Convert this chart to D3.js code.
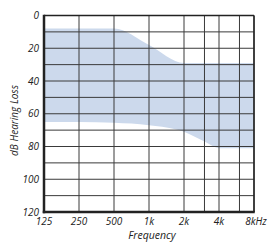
<!DOCTYPE html>
<html>
<head>
<meta charset="utf-8">
<script src="https://cdn.jsdelivr.net/npm/d3@7"></script>
<style>
  body { margin: 0; background: #fff; }
  text { font-family: "Open Sans", sans-serif; font-style: italic; fill: #222; }
</style>
</head>
<body>
<div id="chart"></div>
<script>
// band of typical hearing loss
const freqs = [125, 250, 500, 1000, 2000, 3000, 4000, 6000, 8000];
const upperDb = [8, 8, 8, 18, 29, 29, 29, 29, 29];
const lowerDb = [65, 65, 65.5, 67, 71, 77, 81, 81, 81];
const gridFreqs = [125, 250, 500, 1000, 2000, 3000, 4000, 6000, 8000];
const xTicks = [125, 250, 500, 1000, 2000, 4000, 8000];
const xLabels = ["125", "250", "500", "1k", "2k", "4k", "8kHz"];
const gridDb = d3.range(0, 121, 10);
const yTicks = d3.range(0, 121, 20);

const W = 270, H = 248;
const margin = {top: 15.5, right: 16, bottom: 36, left: 44};

const x = d3.scaleLog().base(2).domain([125, 8000]).range([margin.left, W - margin.right]);
const y = d3.scaleLinear().domain([0, 120]).range([margin.top, H - margin.bottom]);

const svg = d3.select("#chart").append("svg")
  .attr("width", W).attr("height", H);

// band
const band = freqs.map((f, i) => ({f: f, lo: lowerDb[i], hi: upperDb[i]}));
svg.append("path")
  .datum(band)
  .attr("fill", "#ccd9ec")
  .attr("d", d3.area()
    .x(d => x(d.f))
    .y0(d => y(d.lo))
    .y1(d => y(d.hi))
    .curve(d3.curveMonotoneX));

// grid
svg.append("g").selectAll("line")
  .data(gridDb)
  .join("line")
  .attr("x1", x(125)).attr("x2", x(8000))
  .attr("y1", d => y(d)).attr("y2", d => y(d))
  .attr("stroke", "#3a3a3a").attr("stroke-width", 1);

svg.append("g").selectAll("line")
  .data(gridFreqs)
  .join("line")
  .attr("x1", d => x(d)).attr("x2", d => x(d))
  .attr("y1", y(0)).attr("y2", y(120))
  .attr("stroke", "#3a3a3a").attr("stroke-width", 1);

// frame
svg.append("line").attr("x1", x(125)).attr("x2", x(8000))
  .attr("y1", y(0)).attr("y2", y(0)).attr("stroke", "#222").attr("stroke-width", 1.5);
svg.append("line").attr("x1", x(8000)).attr("x2", x(8000))
  .attr("y1", y(0)).attr("y2", y(120)).attr("stroke", "#222").attr("stroke-width", 1.5);
svg.append("line").attr("x1", x(125)).attr("x2", x(125))
  .attr("y1", y(0) - 0.75).attr("y2", y(120) + 1.25).attr("stroke", "#222").attr("stroke-width", 2.5);
svg.append("line").attr("x1", x(125) - 1.25).attr("x2", x(8000) + 0.75)
  .attr("y1", y(120)).attr("y2", y(120)).attr("stroke", "#222").attr("stroke-width", 2.5);

// tick labels
svg.append("g").selectAll("text")
  .data(yTicks)
  .join("text")
  .attr("x", 39)
  .attr("y", d => y(d))
  .attr("dy", "0.35em")
  .attr("text-anchor", "end")
  .attr("font-size", 10)
  .text(d => d);

svg.append("g").selectAll("text")
  .data(xTicks)
  .join("text")
  .attr("x", (d, i) => x(d) + (i === xTicks.length - 1 ? 2 : 0))
  .attr("y", 224.5)
  .attr("text-anchor", "middle")
  .attr("font-size", 10)
  .text((d, i) => xLabels[i]);

// axis titles
svg.append("text")
  .attr("x", (x(125) + x(8000)) / 2 + 3)
  .attr("y", 239)
  .attr("text-anchor", "middle")
  .attr("font-size", 10.5)
  .text("Frequency");

svg.append("text")
  .attr("transform", "translate(18,120.5) rotate(-90)")
  .attr("text-anchor", "middle")
  .attr("font-size", 10)
  .text("dB Hearing Loss");
</script>
</body>
</html>
